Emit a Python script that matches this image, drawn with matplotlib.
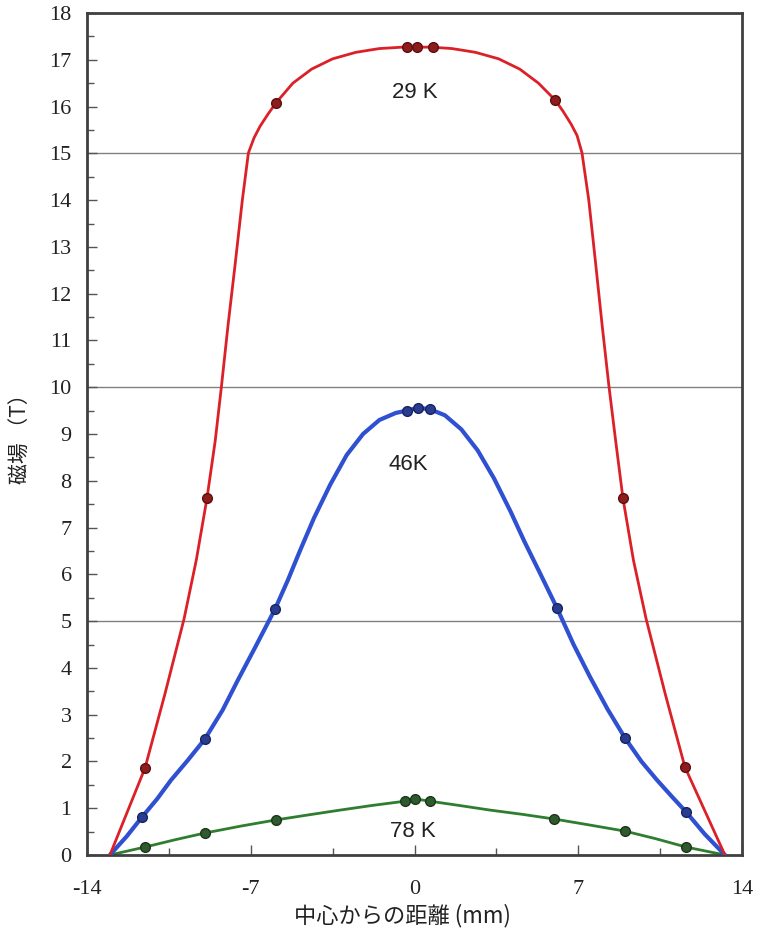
import matplotlib
matplotlib.use("Agg")
import matplotlib.pyplot as plt
from matplotlib.ticker import MultipleLocator

plt.rcParams['axes.unicode_minus'] = False

red_x = [-13.02, -11.52, -10.67, -9.85, -9.33, -8.87, -8.52, -8.25,
         -7.97, -7.66, -7.36, -7.10, -6.86, -6.60, -6.26, -5.92, -5.20, -4.40,
         -3.50, -2.50, -1.50, -0.50, 0.11, 0.70, 1.60, 2.60, 3.60, 4.50,
         5.30, 6.01, 6.35, 6.70, 6.95, 7.16, 7.45, 7.74, 8.02, 8.31,
         8.60, 8.91, 9.36, 9.90, 10.72, 11.56, 13.27]
red_y = [0, 1.86, 3.44, 5.05, 6.30, 7.63, 8.85, 10.03,
         11.33, 12.66, 14.00, 15.01, 15.33, 15.58, 15.84, 16.08, 16.50, 16.80,
         17.02, 17.16, 17.24, 17.27, 17.27, 17.27, 17.24, 17.16, 17.02, 16.80,
         16.50, 16.14, 15.90, 15.62, 15.38, 15.01, 14.00, 12.66, 11.33, 10.03,
         8.85, 7.63, 6.30, 5.05, 3.44, 1.88, 0]
red_px = [-11.52, -8.87, -5.92, -0.32, 0.11, 0.77, 6.01, 8.91, 11.56]
red_py = [1.86, 7.63, 16.08, 17.27, 17.27, 17.27, 16.14, 7.63, 1.88]

# 46 K
blue_x = [-13.02, -12.30, -11.65, -11.00, -10.41, -9.70, -8.96, -8.20, -7.55, -6.80,
          -5.96, -5.41, -4.90, -4.30, -3.60, -2.90, -2.20, -1.50, -0.80, -0.32,
          0.15, 0.66, 1.30, 2.00, 2.70, 3.40, 4.10, 4.70, 5.36, 6.09,
          6.80, 7.50, 8.25, 9.00, 9.70, 10.37, 11.00, 11.61, 12.40, 13.27]
blue_y = [0, 0.40, 0.81, 1.20, 1.60, 2.02, 2.48, 3.10, 3.74, 4.45,
          5.26, 5.88, 6.50, 7.20, 7.92, 8.55, 9.00, 9.30, 9.45, 9.50,
          9.56, 9.53, 9.40, 9.10, 8.65, 8.05, 7.35, 6.70, 6.03, 5.28,
          4.50, 3.81, 3.12, 2.50, 2.00, 1.60, 1.25, 0.92, 0.45, 0]
blue_px = [-11.65, -8.96, -5.96, -0.32, 0.15, 0.66, 6.09, 9.00, 11.61]
blue_py = [0.81, 2.48, 5.26, 9.50, 9.56, 9.53, 5.28, 2.50, 0.92]

# 78 K
green_x = [-13.02, -11.52, -10.20, -8.96, -7.40, -5.92, -4.50, -3.18, -1.80, -0.41,
           0.02, 0.66, 1.90, 3.23, 4.60, 5.96, 7.50, 9.00, 10.30, 11.61, 13.27]
green_y = [0, 0.17, 0.33, 0.47, 0.62, 0.75, 0.86, 0.96, 1.06, 1.15,
           1.20, 1.15, 1.06, 0.96, 0.87, 0.77, 0.64, 0.51, 0.35, 0.17, 0]
green_px = [-11.52, -8.96, -5.92, -0.41, 0.02, 0.66, 5.96, 9.00, 11.61]
green_py = [0.17, 0.47, 0.75, 1.15, 1.20, 1.15, 0.77, 0.51, 0.17]

labels = ["29 K", "46K", "78 K"]
label_x = [0.0, -0.25, -0.05]
label_y = [16.29, 8.34, 0.51]

hlines = [5, 10, 15]
x_ticks = [-14, -7, 0, 7, 14]

fig = plt.figure(figsize=(7.57, 9.31), dpi=100)
ax = fig.add_axes([87 / 757, 1 - 855 / 931, 655 / 757, 842 / 931])

for h in hlines:
    ax.axhline(h, color="#808080", lw=1.0, zorder=1)

ax.plot(green_x, green_y, color="#2f7d2f", lw=2.0, zorder=2)
ax.plot(blue_x, blue_y, color="#2f50d0", lw=3.0, zorder=3)
ax.plot(red_x, red_y, color="#dc2028", lw=2.0, zorder=4)

ax.plot(green_px, green_py, "o", ms=7, mfc="#2e5a2e", mec="#1c351c", mew=1, zorder=5)
ax.plot(blue_px, blue_py, "o", ms=7, mfc="#2a3c90", mec="#18245e", mew=1, zorder=5)
ax.plot(red_px, red_py, "o", ms=7, mfc="#8e1c1c", mec="#5a1010", mew=1, zorder=5)

for t, x, y in zip(labels, label_x, label_y):
    ax.text(x, y, t, ha="center", va="center", fontsize=16,
            family="Liberation Sans", color="#222222")

ax.set_xlim(-14, 14)
ax.set_ylim(0, 18)
ax.set_xticks(x_ticks)
ax.xaxis.set_minor_locator(MultipleLocator(3.5))
ax.yaxis.set_major_locator(MultipleLocator(1))
ax.yaxis.set_minor_locator(MultipleLocator(0.5))
ax.tick_params(which="both", direction="in", color="#555555", top=False, right=False,
               labelsize=16, labelcolor="#222222", labelfontfamily="Liberation Serif")
ax.tick_params(which="major", length=7, width=1)
ax.tick_params(which="minor", length=5, width=1)
ax.tick_params(axis="y", pad=11)
ax.tick_params(axis="x", pad=18)

for s in ax.spines.values():
    s.set_color("#404040")
    s.set_linewidth(2)

ax.set_xlabel("中心からの距離 (mm)", family=["Noto Sans CJK JP", "DejaVu Sans"],
              fontsize=16, color="#222222")
ax.xaxis.set_label_coords(0.482, -0.058)
ax.set_ylabel("磁場 （T）", family=["Noto Sans CJK JP", "DejaVu Sans"],
              fontsize=15, color="#222222")
ax.yaxis.set_label_coords(-0.085, 0.5)

fig.savefig("out.png", dpi=100)
